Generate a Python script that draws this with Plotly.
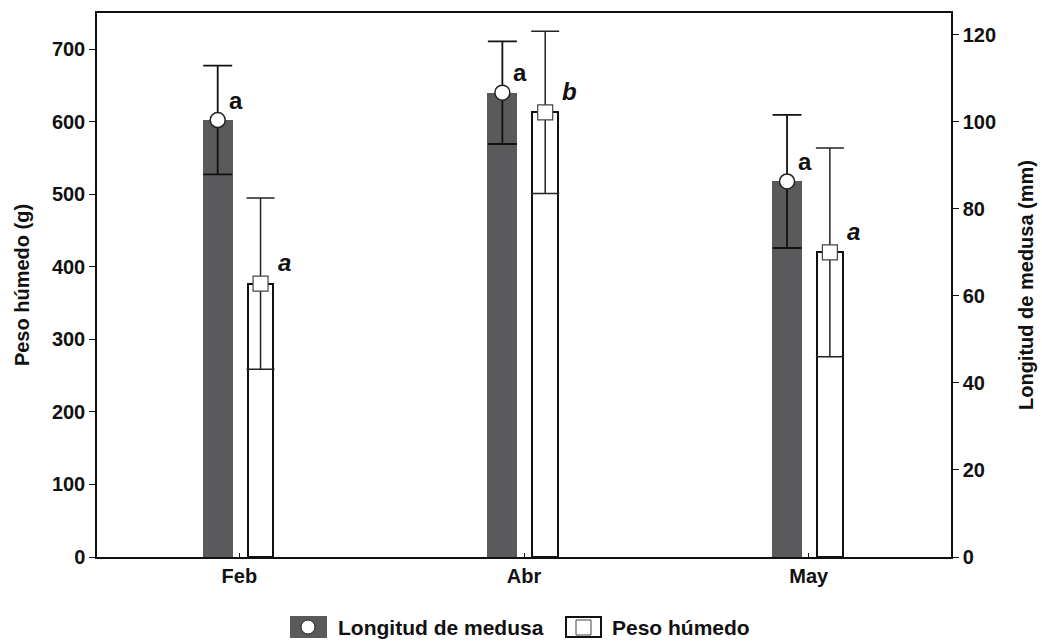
import plotly.graph_objects as go

# Monthly means with their error terms
months = ["Feb", "Abr", "May"]
longitud_mm = [100.4, 106.7, 86.3]      # jellyfish length (mm), right axis
longitud_err = [12.5, 11.8, 15.3]
peso_g = [377, 613, 420]                # wet weight (g), left axis
peso_err = [118, 112, 144]
letras_longitud = ["a", "a", "a"]
letras_peso = ["a", "b", "a"]

FONT = "Liberation Sans, Arial, sans-serif"
DARK = "#5a5a5c"

W, H = 1042, 642
M = dict(l=97, r=91, t=13, b=85)
PW = W - M["l"] - M["r"]
PH = H - M["t"] - M["b"]


def px_x(px):
    return (px - M["l"]) / PW


def px_y(py):
    return (H - M["b"] - py) / PH


idx = list(range(len(months)))
dark_off, dark_w = -0.076, 0.105
white_off, white_w = 0.0745, 0.09
x_dark = [i + dark_off for i in idx]
x_white = [i + white_off for i in idx]

fig = go.Figure()

fig.add_bar(x=x_dark, y=longitud_mm, width=dark_w, yaxis="y2",
            marker=dict(color=DARK, line=dict(width=0)), showlegend=False)
fig.add_bar(x=x_white, y=peso_g, width=white_w,
            marker=dict(color="white", line=dict(color="#111", width=2)),
            showlegend=False)

fig.add_scatter(x=x_dark, y=longitud_mm, yaxis="y2", mode="markers",
                marker=dict(symbol="circle", size=15, color="white",
                            line=dict(color="#222", width=1.5)),
                error_y=dict(type="data", array=longitud_err, color="#111",
                             thickness=1.8, width=14.5),
                showlegend=False)
fig.add_scatter(x=x_white, y=peso_g, mode="markers",
                marker=dict(symbol="square", size=15, color="white",
                            line=dict(color="#444", width=1.2)),
                error_y=dict(type="data", array=peso_err, color="#222",
                             thickness=1.5, width=14),
                showlegend=False)

# significance letters
for i in idx:
    fig.add_annotation(x=x_dark[i], y=longitud_mm[i], yref="y2", xref="x",
                       text=letras_longitud[i], showarrow=False,
                       xshift=18, yshift=20,
                       font=dict(family=FONT, size=24, color="#111", weight="bold"))
    fig.add_annotation(x=x_white[i], y=peso_g[i], yref="y", xref="x",
                       text=letras_peso[i], showarrow=False,
                       xshift=24, yshift=21,
                       font=dict(family=FONT, size=24, color="#111",
                                 weight="bold", style="italic"))

# legend drawn below the plot
shapes = [
    dict(type="rect", xref="paper", yref="paper",
         x0=px_x(290), x1=px_x(327), y0=px_y(638), y1=px_y(616),
         fillcolor=DARK, line=dict(width=0)),
    dict(type="circle", xref="paper", yref="paper",
         x0=px_x(301), x1=px_x(315), y0=px_y(634), y1=px_y(620),
         fillcolor="white", line=dict(color="#222", width=1)),
    dict(type="rect", xref="paper", yref="paper",
         x0=px_x(566), x1=px_x(601), y0=px_y(637), y1=px_y(617),
         fillcolor="white", line=dict(color="#111", width=2)),
    dict(type="rect", xref="paper", yref="paper",
         x0=px_x(576), x1=px_x(591), y0=px_y(635), y1=px_y(620),
         fillcolor="white", line=dict(color="#444", width=1)),
]
fig.add_annotation(xref="paper", yref="paper", x=px_x(336), y=px_y(627),
                   xanchor="left", yanchor="middle", showarrow=False,
                   text="Longitud de medusa",
                   font=dict(family=FONT, size=21, color="#111", weight="bold"))
fig.add_annotation(xref="paper", yref="paper", x=px_x(610), y=px_y(627),
                   xanchor="left", yanchor="middle", showarrow=False,
                   text="Peso húmedo",
                   font=dict(family=FONT, size=21, color="#111", weight="bold"))

tickfont = dict(family=FONT, size=20, color="#111", weight="bold")
titlefont = dict(family=FONT, size=20, color="#111", weight="bold")

fig.update_layout(
    width=W, height=H, margin=M,
    paper_bgcolor="white", plot_bgcolor="white",
    shapes=shapes,
    bargap=0,
    xaxis=dict(range=[-0.5, 2.5], tickvals=idx, ticktext=months,
               automargin=False,
               showgrid=False, zeroline=False,
               showline=True, mirror=True, linecolor="#111", linewidth=1.5,
               ticks="inside", ticklen=4, tickcolor="#111",
               tickfont=tickfont),
    yaxis=dict(range=[0, 750], tickvals=list(range(0, 701, 100)),
               automargin=False,
               showgrid=False, zeroline=False,
               showline=True, linecolor="#111", linewidth=1.5,
               ticks="outside", ticklen=6, tickcolor="#111",
               tickfont=tickfont,
               title=dict(text="Peso húmedo (g)", font=titlefont, standoff=17)),
    yaxis2=dict(range=[0, 125], tickvals=list(range(0, 121, 20)),
                overlaying="y", side="right", automargin=False,
                showgrid=False, zeroline=False,
                showline=True, linecolor="#111", linewidth=1.5,
                ticks="outside", ticklen=6, tickcolor="#111",
                tickfont=tickfont,
                title=dict(text="Longitud de medusa (mm)", font=titlefont,
                           standoff=24)),
)

fig.write_html("out.html")
